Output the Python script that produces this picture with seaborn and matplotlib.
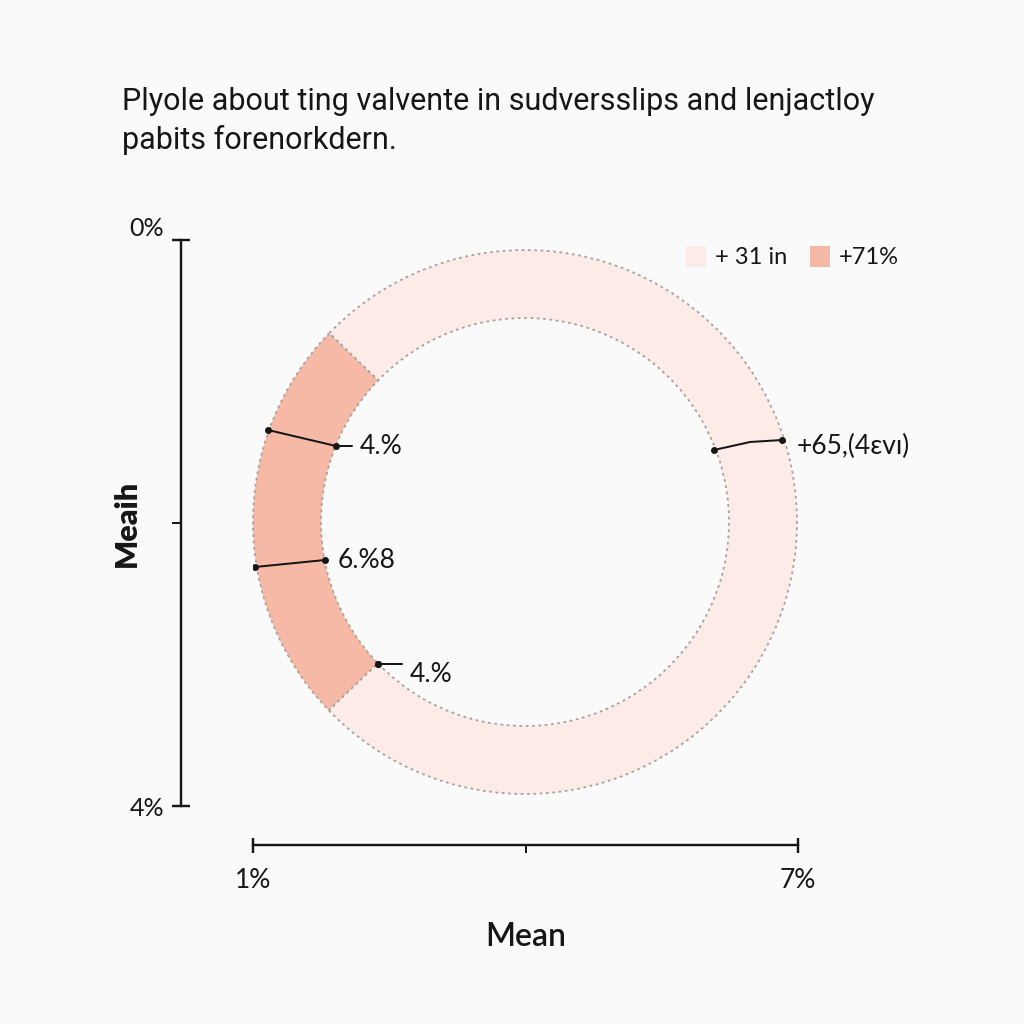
import matplotlib
matplotlib.use("Agg")
import matplotlib.pyplot as plt
import seaborn as sns

# ---- data ----
title_text = "Plyole about ting valvente in sudversslips and lenjactloy\npabits forenorkdern."
segment_names = ["+71%", "+ 31 in"]
segment_shares = [24.4, 75.6]
segment_colors = ["#f5b9a5", "#fcebe7"]
legend_order = [1, 0]
x_ticks = [1, 7]
x_ticklabels = ["1%", "7%"]
x_minor = [4]
y_ticks = [0, 4]
y_ticklabels = ["0%", "4%"]
y_minor = [2]
x_label = "Mean"
y_label = "Meaih"
callout_labels = ["4.%", "6.%8", "4.%", "+65,(4\u025bv\u0131)"]

BG = "#fafafa"
INK = "#161616"

sns.set_theme(style="white", rc={"figure.facecolor": BG, "axes.facecolor": BG})
plt.rcParams["font.family"] = ["Lato", "DejaVu Sans"]

W = H = 1024
fig = plt.figure(figsize=(10.24, 10.24), dpi=100, facecolor=BG)


def rect(l, t, r, b):
    return [l / W, 1 - b / H, (r - l) / W, (b - t) / H]


PT = 0.72  # points per pixel at dpi 100

# ---- axes frame ----
ax = fig.add_axes(rect(253, 240, 798, 806))
ax.set_facecolor("none")
ax.set_xlim(1, 7)
ax.set_ylim(4, 0)
sns.despine(ax=ax, offset={"left": 72 * PT, "bottom": 39 * PT})
for s in ("left", "bottom"):
    ax.spines[s].set_color(INK)
    ax.spines[s].set_linewidth(2.4 * PT)
ax.set_xticks(x_ticks)
ax.set_xticklabels(x_ticklabels)
ax.set_xticks(x_minor, minor=True)
ax.set_yticks(y_ticks)
ax.set_yticklabels(y_ticklabels)
ax.set_yticks(y_minor, minor=True)
ax.tick_params(axis="x", which="both", bottom=True)
ax.tick_params(axis="y", which="both", left=True)
ax.tick_params(axis="x", which="major", direction="inout", length=15 * PT,
               width=2.4 * PT, color=INK, labelsize=19, labelcolor=INK, pad=15 * PT)
ax.tick_params(axis="x", which="minor", direction="out", length=8 * PT,
               width=2.0 * PT, color=INK)
ax.tick_params(axis="y", which="major", direction="inout", length=18 * PT,
               width=2.4 * PT, color=INK, labelsize=18, labelcolor=INK, pad=8 * PT)
ax.tick_params(axis="y", which="minor", direction="out", length=9 * PT,
               width=2.0 * PT, color=INK)
ylabs = ax.get_yticklabels()
ylabs[0].set_verticalalignment("bottom")
ax.set_xlabel(x_label, fontsize=23, fontweight="semibold", color=INK, labelpad=30 * PT)
ax.set_ylabel(y_label, fontsize=22, fontweight="heavy", color=INK, labelpad=-8)

# ---- donut ----
pax = fig.add_axes(rect(525 - 272, 522 - 272, 525 + 272, 522 + 272))
wedges, _ = pax.pie(
    segment_shares, colors=segment_colors, startangle=136, counterclock=True,
    radius=1.0,
    wedgeprops=dict(width=0.25, edgecolor="#a8a09d", linewidth=1.3,
                    linestyle=(0, (1.5, 2))),
)
pax.set_xlim(-1, 1)
pax.set_ylim(-1, 1)
pax.set_aspect("equal")
pax.axis("off")


def px(x, y):
    return ((x - 525) / 272, (522 - y) / 272)


# callouts: (line points in pixels), text anchor
callouts = [
    ([(268, 430), (336, 446)], [(340, 446), (352, 446)], (360, 446)),
    ([(255, 567), (325, 560)], None, (338, 560)),
    ([(378, 664)], [(378, 664), (402, 664)], (410, 674)),
    ([(714, 450), (750, 442), (782, 440)], None, (797, 446)),
]
for (pts, ext, tpos), lab in zip(callouts, callout_labels):
    xs, ys = zip(*[px(*p) for p in pts])
    pax.plot(xs, ys, color=INK, lw=2.0 * PT, solid_capstyle="round")
    pax.plot([xs[0], xs[-1]], [ys[0], ys[-1]], "o", color=INK, ms=4)
    if ext:
        ex, ey = zip(*[px(*p) for p in ext])
        pax.plot(ex, ey, color=INK, lw=2.0 * PT)
    tx, ty = px(*tpos)
    pax.text(tx, ty, lab, fontsize=19, color=INK, ha="left", va="center")

# legend
handles = [wedges[i] for i in legend_order]
labels = [segment_names[i] for i in legend_order]
fig.legend(handles, labels, loc="center right", bbox_to_anchor=(920 / W, 1 - 257 / H),
           ncol=2, frameon=False, fontsize=17, handlelength=0.85, handleheight=1.0,
           columnspacing=1.0, handletextpad=0.35, labelcolor=INK)
for h in fig.legends[0].legend_handles:
    h.set_linestyle("-")
    h.set_edgecolor("none")

# title
fig.text(122 / W, 1 - 121 / H, title_text, fontsize=22, color=INK, ha="left",
         va="center", linespacing=1.4, family=["Roboto", "DejaVu Sans"])

fig.savefig("out.png", dpi=100, facecolor=BG)
